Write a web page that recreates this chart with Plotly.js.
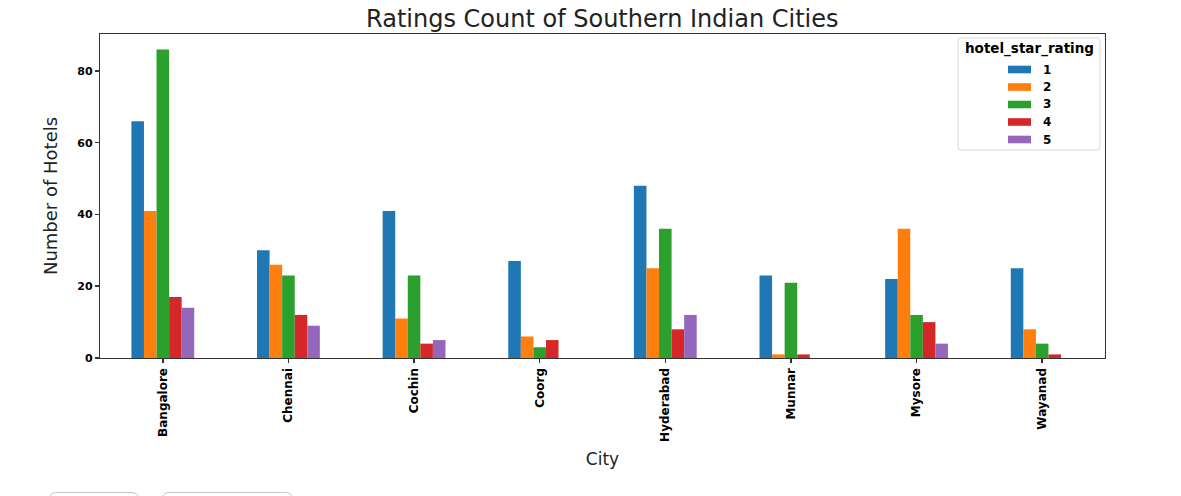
<!DOCTYPE html>
<html>
<head>
<meta charset="utf-8">
<script src="https://cdn.plot.ly/plotly-3.0.1.min.js"></script>
<style>
html,body{margin:0;padding:0;background:#fff;}
#chart{width:1181px;height:496px;}
.btn{position:absolute;top:492px;height:20px;border:1px solid #c4c7cc;border-radius:8px;background:#fff;}
</style>
</head>
<body>
<div id="chart"></div>
<div class="btn" style="left:48px;width:90px;"></div>
<div class="btn" style="left:161px;width:131px;"></div>
<script>
const cities = ["Bangalore","Chennai","Cochin","Coorg","Hyderabad","Munnar","Mysore","Wayanad"];
const ratings = ["1","2","3","4","5"];
const star1 = [66, 30, 41, 27, 48, 23, 22, 25];
const star2 = [41, 26, 11, 6, 25, 1, 36, 8];
const star3 = [86, 23, 23, 3, 36, 21, 12, 4];
const star4 = [17, 12, 4, 5, 8, 1, 10, 1];
const star5 = [14, 9, 5, 0, 12, 0, 4, 0];
const seriesValues = [star1, star2, star3, star4, star5];
const colors = ["#1f77b4","#ff7f0e","#2ca02c","#d62728","#9467bd"];
const legendTitle = "hotel_star_rating";

const traces = ratings.map((r, i) => ({
  type: "bar",
  name: r,
  x: cities,
  y: seriesValues[i],
  marker: {color: colors[i], line: {width: 0}},
  showlegend: false
}));

// plot area in pixels: x 100..1105, y 34..358
const L = 100, R = 1105, T = 34, B = 358;
const px = x => (x - L) / (R - L);
const py = y => (B - y) / (B - T);

const shapes = [];
const annotations = [];
// legend frame (rounded)
(function(){
  const x0 = 958, x1 = 1100, y0 = 38, y1 = 150, r = 3;
  const p = `M ${px(x0+r)} ${py(y0)} L ${px(x1-r)} ${py(y0)} Q ${px(x1)} ${py(y0)} ${px(x1)} ${py(y0+r)} ` +
            `L ${px(x1)} ${py(y1-r)} Q ${px(x1)} ${py(y1)} ${px(x1-r)} ${py(y1)} ` +
            `L ${px(x0+r)} ${py(y1)} Q ${px(x0)} ${py(y1)} ${px(x0)} ${py(y1-r)} ` +
            `L ${px(x0)} ${py(y0+r)} Q ${px(x0)} ${py(y0)} ${px(x0+r)} ${py(y0)} Z`;
  shapes.push({type: "path", xref: "paper", yref: "paper", path: p,
               line: {color: "#d9d9d9", width: 1}, fillcolor: "rgba(255,255,255,0.8)", layer: "above"});
})();
annotations.push({xref: "paper", yref: "paper", x: px(1029), y: py(49), xanchor: "center", yanchor: "middle",
  text: "<b>" + legendTitle + "</b>", showarrow: false,
  font: {family: "DejaVu Sans", size: 13.5, color: "#000"}});
const rowY = [69.5, 87, 104.5, 122, 139.5];
ratings.forEach((r, i) => {
  shapes.push({type: "rect", xref: "paper", yref: "paper",
    x0: px(1008), x1: px(1031), y0: py(rowY[i] - 3.8), y1: py(rowY[i] + 3.8),
    fillcolor: colors[i], line: {width: 0}, layer: "above"});
  annotations.push({xref: "paper", yref: "paper", x: px(1041), y: py(rowY[i]), xanchor: "left", yanchor: "middle",
    text: "<b>" + r + "</b>", showarrow: false,
    font: {family: "DejaVu Sans", size: 12, color: "#000"}});
});

const layout = {
  width: 1181, height: 496,
  margin: {l: L, r: 1181 - R, t: T, b: 496 - B},
  paper_bgcolor: "#fff", plot_bgcolor: "#fff",
  barmode: "group", bargap: 0.5, bargroupgap: 0,
  showlegend: false,
  title: {text: "Ratings Count of Southern Indian Cities", x: 0.51, xanchor: "center", y: 0.962, yanchor: "middle",
          font: {family: "DejaVu Sans", size: 24, color: "#222"}},
  xaxis: {
    type: "category", range: [-0.5, 7.5],
    tickangle: -90, tickfont: {family: "DejaVu Sans", size: 12, color: "#000", weight: "bold"},
    ticks: "outside", ticklen: 4, tickwidth: 1.5, tickcolor: "#333",
    showline: true, linecolor: "#333", linewidth: 1.2, mirror: true,
    showgrid: false, zeroline: false,
    title: {text: "City", font: {family: "DejaVu Sans", size: 17, color: "#222"}, standoff: 12}
  },
  yaxis: {
    range: [0, 90.3], tickvals: [0,20,40,60,80],
    tickfont: {family: "DejaVu Sans", size: 11, color: "#000", weight: "bold"},
    ticks: "outside", ticklen: 4, tickwidth: 1.5, tickcolor: "#333",
    showline: true, linecolor: "#333", linewidth: 1.2, mirror: true,
    showgrid: false, zeroline: false,
    title: {text: "Number of Hotels", font: {family: "DejaVu Sans", size: 18, color: "#222"}, standoff: 15}
  },
  shapes: shapes,
  annotations: annotations
};

Plotly.newPlot("chart", traces, layout, {displayModeBar: false, staticPlot: true});
</script>
</body>
</html>
